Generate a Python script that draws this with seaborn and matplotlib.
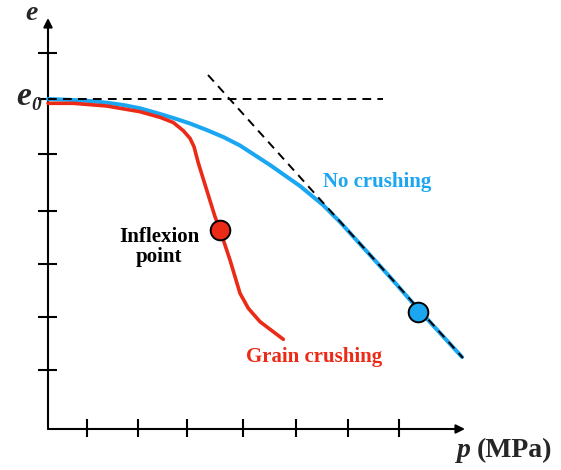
import numpy as np
import pandas as pd
import seaborn as sns
import matplotlib.pyplot as plt

# schematic units: p and e in arbitrary units (origin at the axes corner)
no_crush_p = [0, 2.53, 4.2, 5.87, 7.53, 9.2, 10.87, 12.53, 14.2, 15.87, 17.53, 19.2,
              22.2, 25.2, 27.5, 29.2, 31.2, 34.2, 37.0, 41.4]
no_crush_e = [33.0, 32.9, 32.8, 32.63, 32.4, 32.07, 31.6, 31.1, 30.55, 29.9, 29.2, 28.35,
              26.4, 24.3, 22.4, 20.7, 18.5, 15.2, 12.0, 7.2]

crush_p = [0, 2.53, 5.87, 9.2, 11.2, 12.53, 13.53, 14.2, 14.6, 15.03, 15.87, 16.7,
           17.2, 18.2, 19.2, 20.03, 21.2, 23.53]
crush_e = [32.57, 32.57, 32.3, 31.73, 31.17, 30.65, 29.83, 29.07, 28.23, 26.6, 23.9, 21.23,
           19.9, 16.9, 13.57, 12.07, 10.73, 8.97]

e0 = 33.0
e0_line_end = 33.5
tangent_p = [16.0, 41.5]
tangent_e = [35.4, 7.1]

inflexion = (17.2, 19.9)
no_crush_pt = (37.0, 11.7)

p_ticks = [3.9, 9.0, 13.9, 19.5, 24.8, 30.0, 35.1]
e_ticks = [5.9, 11.2, 16.5, 21.8, 27.5, 37.6]

blue = "#1BA6F2"
red = "#EB2A17"

sns.set_style("white")
plt.rcParams['font.family'] = ['Liberation Serif', 'DejaVu Serif']

fig = plt.figure(figsize=(5.61, 4.70), dpi=100)
ax = fig.add_axes([0, 0, 1, 1])
ax.set_xlim(-4.8, 51.3)
ax.set_ylim(-4.1, 42.9)
ax.axis("off")

# axes with arrows
ax.annotate("", xy=(41.7, 0), xytext=(0, 0),
            arrowprops=dict(arrowstyle="-|>", lw=1.5, color="k", mutation_scale=13, shrinkA=0, shrinkB=0))
ax.annotate("", xy=(0, 41.1), xytext=(0, 0),
            arrowprops=dict(arrowstyle="-|>", lw=1.5, color="k", mutation_scale=13, shrinkA=0, shrinkB=0))
ax.vlines(p_ticks, -0.8, 1.0, color="k", lw=1.5)
ax.hlines(e_ticks, -1.0, 0.9, color="k", lw=1.5)
ax.hlines([e0], -1.0, 0, color="k", lw=1.5)

# curves
sns.lineplot(x=no_crush_p, y=no_crush_e, sort=False, color=blue, lw=2.9, ax=ax, zorder=3)
sns.lineplot(x=crush_p, y=crush_e, sort=False, color=red, lw=2.6, ax=ax, zorder=3)

# dashed reference lines
sns.lineplot(x=[0, e0_line_end], y=[e0, e0], color="k", lw=1.4, linestyle=(0, (4.5, 3.2)), ax=ax, zorder=4)
sns.lineplot(x=tangent_p, y=tangent_e, sort=False, color="k", lw=1.4, linestyle=(0, (4.5, 3.2)), ax=ax, zorder=4)

# markers
sns.scatterplot(x=[inflexion[0]], y=[inflexion[1]], color=red, s=200, edgecolor="k", linewidth=1.4, ax=ax, zorder=5)
sns.scatterplot(x=[no_crush_pt[0]], y=[no_crush_pt[1]], color=blue, s=200, edgecolor="k", linewidth=1.4, ax=ax, zorder=5)

# labels
bold = dict(fontweight="bold")
ax.text(-1.6, 40.9, "e", fontsize=20, fontstyle="italic", ha="center", va="baseline", **bold)
ax.text(-2.4, 32.4, "e", fontsize=24, fontstyle="italic", ha="center", va="baseline", **bold)
ax.text(-1.2, 31.9, "0", fontsize=14, fontstyle="italic", ha="center", va="baseline", **bold)
ax.text(32.9, 24.2, "No crushing", fontsize=15, color=blue, ha="center", va="baseline", **bold)
ax.text(11.1, 18.7, "Inflexion", fontsize=15, color="k", ha="center", va="baseline", **bold)
ax.text(11.1, 16.7, "point", fontsize=15, color="k", ha="center", va="baseline", **bold)
ax.text(26.65, 6.7, "Grain crushing", fontsize=15, color=red, ha="center", va="baseline", **bold)
ax.text(40.9, -2.8, "p", fontsize=20, fontstyle="italic", ha="left", va="baseline", **bold)
ax.text(42.9, -2.8, "(MPa)", fontsize=20, ha="left", va="baseline", **bold)

fig.savefig("out.png", dpi=100)
